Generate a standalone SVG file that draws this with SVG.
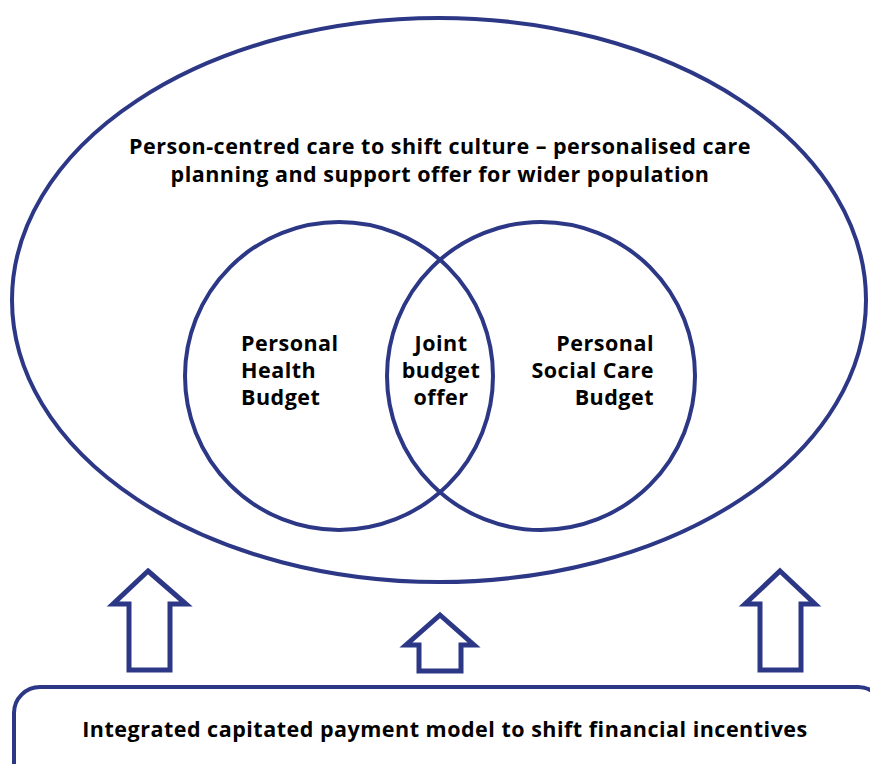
<svg xmlns="http://www.w3.org/2000/svg" width="870" height="764" viewBox="0 0 870 764">
<style>
.ln{fill:none;stroke:#2c3886;stroke-width:4}
.ar{fill:#fff;stroke:#2c3886;stroke-width:5;stroke-linejoin:miter}
.t{font-family:"Open Sans","Liberation Sans",sans-serif;font-weight:bold;font-size:21.5px;letter-spacing:0.5px;fill:#000}
</style>
<rect width="870" height="764" fill="#fff"/>
<g id="outer">
<ellipse class="ln" cx="439" cy="300" rx="427" ry="282"/>
<text class="t" text-anchor="middle" x="440" y="154">Person-centred care to shift culture – personalised care</text>
<text class="t" text-anchor="middle" x="440" y="182">planning and support offer for wider population</text>
</g>
<g id="phb">
<circle class="ln" cx="339" cy="376" r="154"/>
<text class="t" x="241" y="351">Personal</text>
<text class="t" x="241" y="378">Health</text>
<text class="t" x="241" y="405">Budget</text>
</g>
<g id="pscb">
<circle class="ln" cx="541" cy="376" r="154"/>
<text class="t" text-anchor="end" x="654" y="351">Personal</text>
<text class="t" text-anchor="end" x="654" y="378">Social Care</text>
<text class="t" text-anchor="end" x="654" y="405">Budget</text>
</g>
<g id="joint">
<text class="t" text-anchor="middle" x="441" y="351">Joint</text>
<text class="t" text-anchor="middle" x="441" y="378">budget</text>
<text class="t" text-anchor="middle" x="441" y="405">offer</text>
</g>
<g id="connectors">
<path class="ar" d="M148 571 L186 604 L170 604 L170 670 L129 670 L129 604 L113 604 Z"/>
<path class="ar" d="M440 615 L474 645 L461 645 L461 671 L419 671 L419 645 L406 645 Z"/>
<path class="ar" d="M780 571 L815 604 L801 604 L801 670 L760 670 L760 604 L745 604 Z"/>
</g>
<g id="payment">
<rect class="ln" x="14" y="687" width="870" height="120" rx="26" ry="26"/>
<text class="t" text-anchor="middle" x="445" y="737">Integrated capitated payment model to shift financial incentives</text>
</g>
</svg>
